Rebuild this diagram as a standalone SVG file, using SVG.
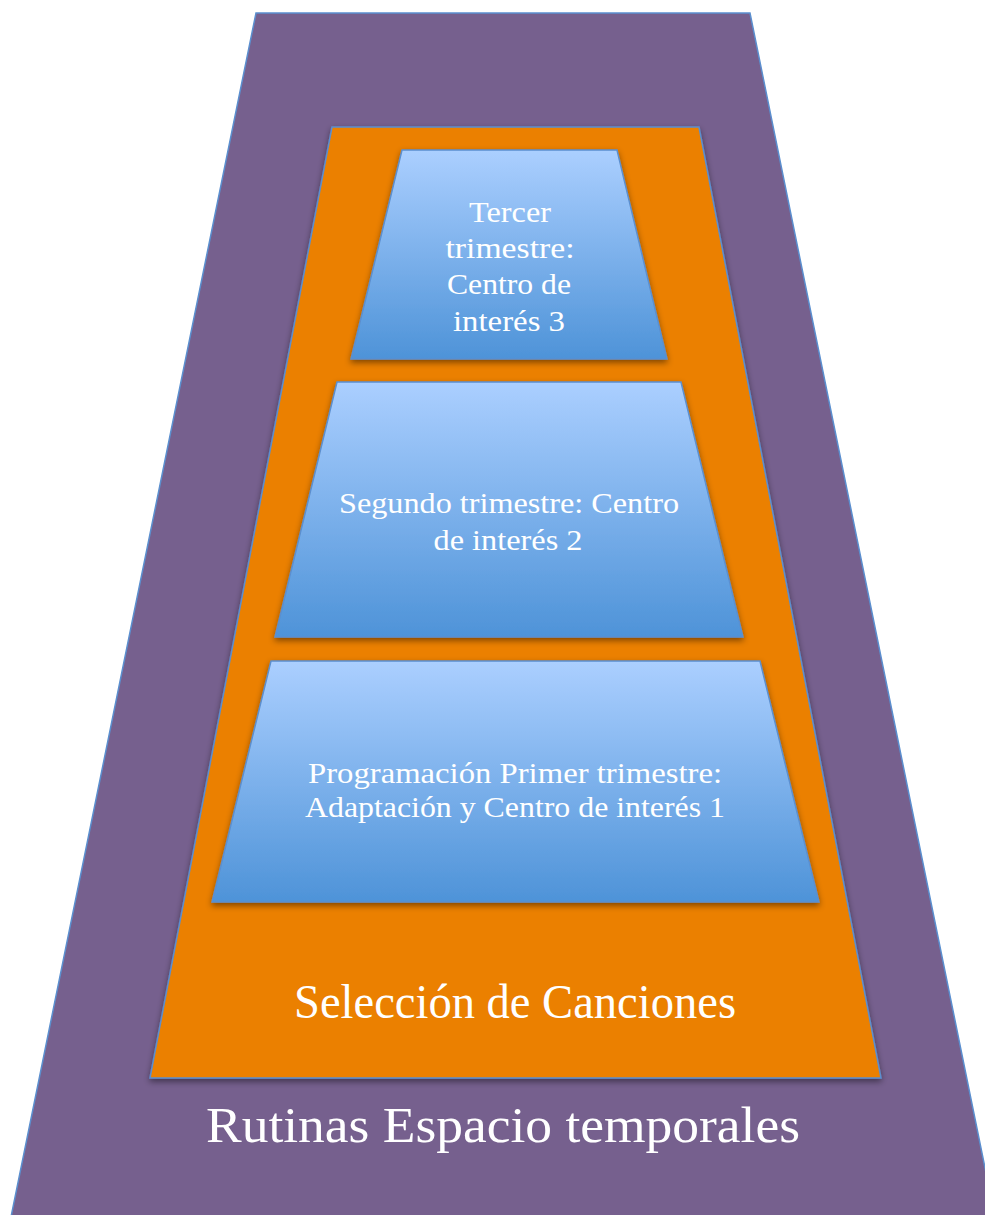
<svg xmlns="http://www.w3.org/2000/svg" width="985" height="1215" viewBox="0 0 985 1215">
<style>
.lbl{font-family:"Liberation Serif","DejaVu Serif",serif;fill:#ffffff;text-anchor:middle}
.edge{stroke:#5b8fcf;stroke-width:1.5;stroke-linejoin:miter}
</style>
<defs>
<linearGradient id="blueGrad" x1="0" y1="0" x2="0" y2="1">
<stop offset="0" stop-color="#abcfff"/>
<stop offset="1" stop-color="#4e93d8"/>
</linearGradient>
<filter id="shadow" x="-10%" y="-10%" width="120%" height="125%">
<feDropShadow dx="0" dy="3" stdDeviation="3" flood-color="#000" flood-opacity="0.45"/>
</filter>
</defs>
<rect width="985" height="1215" fill="#ffffff"/>
<g id="rutinas">
<polygon class="edge" points="256,13 750,13 995,1217 11,1217" fill="#76608e"/>
<text class="lbl" x="503" y="1142" font-size="51" textLength="594" lengthAdjust="spacingAndGlyphs">Rutinas Espacio temporales</text>
</g>
<g id="seleccion">
<polygon class="edge" points="332,127 699,127 881,1078 150,1078" fill="#eb8003" filter="url(#shadow)"/>
<text class="lbl" x="515" y="1018" font-size="48" textLength="442" lengthAdjust="spacingAndGlyphs">Selección de Canciones</text>
</g>
<g id="tercer">
<polygon class="edge" points="402,150 617,150 667,359 351,359" fill="url(#blueGrad)" filter="url(#shadow)"/>
<text class="lbl" x="510" y="222" font-size="30" textLength="82" lengthAdjust="spacingAndGlyphs">Tercer</text>
<text class="lbl" x="510" y="258" font-size="30" textLength="129" lengthAdjust="spacingAndGlyphs">trimestre:</text>
<text class="lbl" x="509" y="294" font-size="30" textLength="124" lengthAdjust="spacingAndGlyphs">Centro de</text>
<text class="lbl" x="509" y="331" font-size="30" textLength="112" lengthAdjust="spacingAndGlyphs">interés 3</text>
</g>
<g id="segundo">
<polygon class="edge" points="337,382 681,382 743,637 275,637" fill="url(#blueGrad)" filter="url(#shadow)"/>
<text class="lbl" x="509" y="513" font-size="30" textLength="340" lengthAdjust="spacingAndGlyphs">Segundo trimestre: Centro</text>
<text class="lbl" x="508" y="550" font-size="30" textLength="149" lengthAdjust="spacingAndGlyphs">de interés 2</text>
</g>
<g id="primer">
<polygon class="edge" points="271,661 760,661 819,902 212,902" fill="url(#blueGrad)" filter="url(#shadow)"/>
<text class="lbl" x="515" y="783" font-size="30" textLength="414" lengthAdjust="spacingAndGlyphs">Programación Primer trimestre:</text>
<text class="lbl" x="515" y="817" font-size="30" textLength="420" lengthAdjust="spacingAndGlyphs">Adaptación y Centro de interés 1</text>
</g>
<g id="connectors"/>
</svg>
